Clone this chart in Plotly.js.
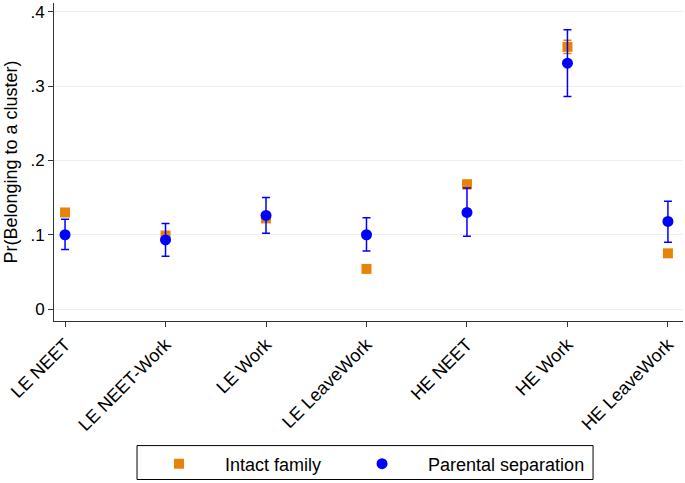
<!DOCTYPE html>
<html>
<head>
<meta charset="utf-8">
<script src="https://cdn.plot.ly/plotly-3.0.1.min.js"></script>
<style>html,body{margin:0;padding:0;background:#fff;}#chart{width:685px;height:483px;}</style>
</head>
<body>
<div id="chart"></div>
<script>
var categories = ["LE NEET", "LE NEET-Work", "LE Work", "LE LeaveWork", "HE NEET", "HE Work", "HE LeaveWork"];
var intactValues = [0.130, 0.099, 0.122, 0.054, 0.168, 0.353, 0.075];
var intactLower = [0.126, 0.096, 0.118, 0.051, 0.162, 0.344, 0.072];
var intactUpper = [0.134, 0.102, 0.126, 0.057, 0.173, 0.362, 0.078];
var separationValues = [0.100, 0.093, 0.126, 0.100, 0.130, 0.331, 0.118];
var separationLower = [0.080, 0.071, 0.102, 0.078, 0.098, 0.286, 0.090];
var separationUpper = [0.121, 0.115, 0.150, 0.123, 0.163, 0.376, 0.145];
var seriesNames = ["Intact family", "Parental separation"];
var yTickValues = [0, 0.1, 0.2, 0.3, 0.4];
var yTickLabels = ["0", ".1", ".2", ".3", ".4"];

function diff(a, b) { return a.map(function (v, i) { return v - b[i]; }); }

var xIdx = categories.map(function (c, i) { return i; });
var orange = "#e8830a";
var blue = "#0000ff";

var traces = [
  {
    x: xIdx, y: intactValues, type: "scatter", mode: "markers", name: seriesNames[0] + "\u00a0\u00a0",
    marker: { symbol: "square", size: 10, color: orange },
    error_y: { type: "data", symmetric: false, array: diff(intactUpper, intactValues),
      arrayminus: diff(intactValues, intactLower), color: orange, thickness: 1.5, width: 4 }
  },
  {
    x: xIdx, y: separationValues, type: "scatter", mode: "markers", name: seriesNames[1],
    marker: { symbol: "circle", size: 11, color: blue },
    error_y: { type: "data", symmetric: false, array: diff(separationUpper, separationValues),
      arrayminus: diff(separationValues, separationLower), color: blue, thickness: 1.5, width: 4 }
  }
];

var layout = {
  width: 685, height: 483,
  margin: { l: 54, r: 2, t: 3, b: 161 },
  paper_bgcolor: "#fff", plot_bgcolor: "#fff",
  font: { family: "Arial, 'Liberation Sans', sans-serif", color: "#000", size: 18 },
  showlegend: true,
  legend: {
    orientation: "h", x: 0.1256, xanchor: "left", y: -0.445, yanchor: "middle",
    borderwidth: 0, bgcolor: "rgba(0,0,0,0)", font: { size: 18 },
    itemwidth: 82
  },
  shapes: [
    { type: "rect", xref: "paper", yref: "paper", x0: 0.132, x1: 0.857, y0: -0.3918, y1: -0.4984,
      line: { color: "#000", width: 1 }, fillcolor: "rgba(0,0,0,0)" }
  ],
  xaxis: {
    range: [-0.11, 6.15], tickmode: "array", tickvals: xIdx, ticktext: categories,
    tickangle: -45, ticks: "outside", ticklen: 5, tickcolor: "#333", automargin: false,
    showline: true, linecolor: "#333", linewidth: 1, showgrid: false, zeroline: false,
    tickfont: { size: 18 }
  },
  yaxis: {
    range: [-0.0161, 0.412], tickmode: "array", tickvals: yTickValues, ticktext: yTickLabels,
    ticks: "outside", ticklen: 5, tickcolor: "#333", automargin: false,
    showline: true, linecolor: "#333", linewidth: 1,
    showgrid: true, gridcolor: "#e8f0f3", gridwidth: 1, zeroline: false,
    tickfont: { size: 17 },
    title: { text: "Pr(Belonging to a cluster)", font: { size: 18 }, standoff: 8 }
  }
};

Plotly.newPlot("chart", traces, layout, { displayModeBar: false, staticPlot: true });
</script>
</body>
</html>
